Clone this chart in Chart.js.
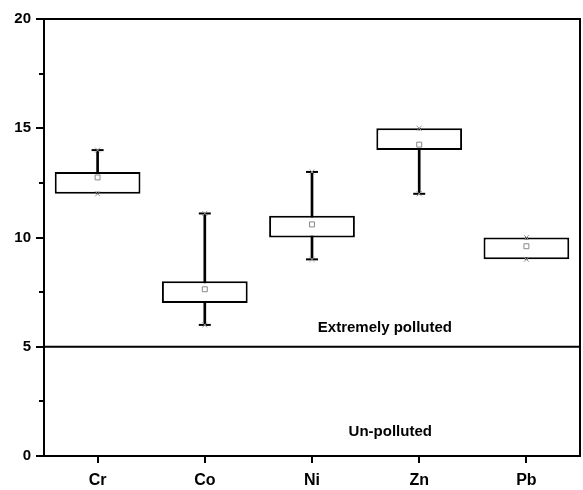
<!DOCTYPE html>
<html>
<head>
<meta charset="utf-8">
<script src="https://cdn.jsdelivr.net/npm/chart.js@4.4.0/dist/chart.umd.min.js"></script>
<style>
  html, body { margin: 0; padding: 0; background: #fff; }
  #wrap { width: 583px; height: 490px; }
</style>
</head>
<body>
<div id="wrap"><canvas id="c"></canvas></div>
<script>
var metals = ['Cr', 'Co', 'Ni', 'Zn', 'Pb'];
var minVals = [12, 6, 9, 12, 9];
var q1Vals = [12, 7, 10, 14, 9];
var q3Vals = [13, 8, 11, 15, 10];
var maxVals = [14, 11.1, 13, 15, 10];
var meanVals = [12.75, 7.63, 10.6, 14.25, 9.6];
var yTicks = [0, 5, 10, 15, 20];
var threshold = 5;
var zoneLabels = [
  { text: 'Extremely polluted', y: 5.86, xFrac: 0.636 },
  { text: 'Un-polluted', y: 1.1, xFrac: 0.646 }
];

var FONT = '"Liberation Sans", Arial, sans-serif';

var boxes = metals.map(function (m, i) { return [q1Vals[i], q3Vals[i]]; });
var whiskers = metals.map(function (m, i) { return [minVals[i], maxVals[i]]; });
var topCaps = maxVals.map(function (v, i) { return v > q3Vals[i] ? v : null; });
var lowCaps = minVals.map(function (v, i) { return v < q1Vals[i] ? v : null; });

var decor = {
  id: 'decor',
  afterDatasetsDraw: function (chart) {
    var ctx = chart.ctx, a = chart.chartArea;
    var y = chart.scales.y;
    ctx.save();
    ctx.strokeStyle = '#000';
    ctx.lineWidth = 2;
    // threshold line
    var ty = y.getPixelForValue(threshold);
    ctx.beginPath();
    ctx.moveTo(a.left, ty);
    ctx.lineTo(a.right, ty);
    ctx.stroke();
    // frame
    ctx.strokeRect(a.left, a.top, a.right - a.left, a.bottom - a.top);
    // minor ticks
    for (var v = 2.5; v < 20; v += 5) {
      var py = Math.round(y.getPixelForValue(v));
      ctx.beginPath();
      ctx.moveTo(a.left - 5, py);
      ctx.lineTo(a.left, py);
      ctx.stroke();
    }
    // zone text
    ctx.fillStyle = '#000';
    ctx.font = 'bold 15px ' + FONT;
    ctx.textAlign = 'center';
    ctx.textBaseline = 'middle';
    zoneLabels.forEach(function (z) {
      ctx.fillText(z.text, a.left + (a.right - a.left) * z.xFrac, y.getPixelForValue(z.y));
    });
    ctx.restore();
  }
};

new Chart(document.getElementById('c').getContext('2d'), {
  type: 'bar',
  data: {
    labels: metals,
    datasets: [
      { type: 'line', data: meanVals, showLine: false, pointStyle: 'rect', pointRadius: 3.5,
        pointBackgroundColor: '#fff', pointBorderColor: '#888', pointBorderWidth: 1, order: 0 },
      { type: 'line', data: minVals, showLine: false, pointStyle: 'crossRot', pointRadius: 3.5,
        pointBorderColor: '#999', pointBorderWidth: 1, order: 1 },
      { type: 'line', data: maxVals, showLine: false, pointStyle: 'crossRot', pointRadius: 3.5,
        pointBorderColor: '#999', pointBorderWidth: 1, order: 2 },
      { data: boxes, backgroundColor: '#fff', borderColor: '#000', borderWidth: 2,
        borderSkipped: false, barPercentage: 0.8, categoryPercentage: 1, grouped: false, order: 3 },
      { type: 'line', data: topCaps, showLine: false, pointStyle: 'line', pointRadius: 6,
        pointBorderColor: '#000', pointBorderWidth: 2, order: 4 },
      { type: 'line', data: lowCaps, showLine: false, pointStyle: 'line', pointRadius: 6,
        pointBorderColor: '#000', pointBorderWidth: 2, order: 5 },
      { data: whiskers, backgroundColor: '#000', borderWidth: 0, barThickness: 2,
        grouped: false, order: 6 }
    ]
  },
  options: {
    responsive: true,
    maintainAspectRatio: false,
    animation: false,
    layout: { autoPadding: false, padding: { left: 0, top: 19, right: 3, bottom: 0 } },
    plugins: { legend: { display: false }, tooltip: { enabled: false } },
    scales: {
      x: {
        afterFit: function (s) { s.height = 34; },
        grid: { display: true, offset: false, drawOnChartArea: false, drawTicks: true, tickLength: 7, color: '#000', lineWidth: 2 },
        border: { display: true, color: '#000', width: 2 },
        ticks: { color: '#000', padding: 8, font: { family: FONT, size: 16, weight: 'bold' } }
      },
      y: {
        min: 0, max: 20,
        afterFit: function (s) { s.width = 44; },
        afterBuildTicks: function (s) { s.ticks = yTicks.map(function (v) { return { value: v }; }); },
        grid: { display: true, drawOnChartArea: false, drawTicks: true, tickLength: 8, color: '#000', lineWidth: 2 },
        border: { display: true, color: '#000', width: 2 },
        ticks: { color: '#000', padding: 5, font: { family: FONT, size: 15, weight: 'bold' } }
      }
    }
  },
  plugins: [decor]
});
</script>
</body>
</html>
